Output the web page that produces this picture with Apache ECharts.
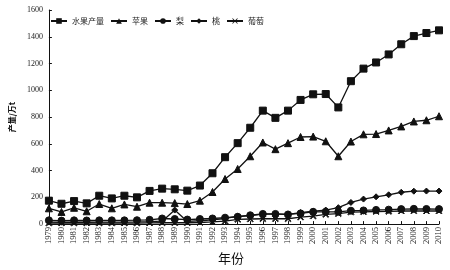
<!DOCTYPE html>
<html><head><meta charset="utf-8">
<script src="https://cdn.jsdelivr.net/npm/echarts@6/dist/echarts.min.js"></script>
<style>html,body{margin:0;padding:0;background:#fff}#c{width:450px;height:270px}</style>
</head><body><div id="c"></div>
<script>
const years = ['1979','1980','1981','1982','1983','1984','1985','1986','1987','1988','1989','1990','1991','1992','1993','1994','1995','1996','1997','1998','1999','2000','2001','2002','2003','2004','2005','2006','2007','2008','2009','2010'];
const total = [175,152,172,155,212,192,212,200,248,265,260,250,288,380,500,605,720,848,794,848,928,970,972,872,1068,1162,1208,1268,1344,1405,1428,1448];
const apple = [118,91,122,96,150,118,147,130,160,160,157,150,175,240,337,412,507,610,560,605,651,654,619,507,617,671,673,700,730,767,776,806];
const pear = [28,26,28,27,28,28,28,29,32,42,38,34,38,42,48,55,66,76,76,72,80,92,92,92,100,102,106,108,112,114,113,112];
const peach = [15,14,15,14,15,15,15,16,18,22,105,20,25,32,42,57,64,75,75,72,86,96,105,123,162,187,204,219,238,246,247,247];
const grape = [8,8,8,8,8,8,8,8,9,10,10,10,12,16,22,35,38,40,40,40,52,60,72,78,90,92,94,95,98,99,98,98];
const yTicks = {min:0, max:1600, interval:200};
const names = ['水果产量','苹果','梨','桃','葡萄'];

const crossPath = 'path://M0,1L1,0L5,4L9,0L10,1L6,5L10,9L9,10L5,6L1,10L0,9L4,5Z';
const symbols = ['rect','triangle','circle','diamond',crossPath];
const sizes = [7,7,7,6,6];
const datas = [total, apple, pear, peach, grape];
const ink = '#111';

const chart = echarts.init(document.getElementById('c'), null, {renderer:'canvas'});
chart.setOption({
  animation:false,
  backgroundColor:'#fff',
  legend:{
    left:45, top:12, itemWidth:16, itemHeight:7, itemGap:6,
    textStyle:{fontSize:8, color:'#222', fontFamily:'Noto Sans CJK SC'},
    data:names
  },
  grid:{left:34, right:11, top:10, bottom:44},
  xAxis:{
    type:'category', data:years, boundaryGap:false,
    name:'年份', nameLocation:'middle', nameGap:27,
    nameTextStyle:{fontSize:13, color:'#111', fontFamily:'Noto Sans CJK SC', padding:[0,26,0,0]},
    axisLine:{lineStyle:{color:ink, width:1}},
    axisTick:{inside:true, length:3, lineStyle:{color:ink}},
    axisLabel:{rotate:90, fontSize:8.5, margin:3, color:'#222', fontFamily:'Liberation Serif', interval:0},
    splitLine:{show:false}
  },
  yAxis:{
    type:'value', min:yTicks.min, max:yTicks.max, interval:yTicks.interval,
    name:'产量/万t', nameLocation:'middle', nameGap:18,
    nameTextStyle:{fontSize:8, fontWeight:'bold', color:'#111', fontFamily:'Noto Sans CJK SC'},
    axisLine:{show:true, lineStyle:{color:ink, width:1}},
    axisTick:{show:true, inside:true, length:3, lineStyle:{color:ink}},
    axisLabel:{fontSize:8, margin:6, color:'#222', fontFamily:'Liberation Serif', formatter:v=>String(v)},
    splitLine:{show:false}
  },
  series:names.map((n,i)=>({
    name:n, type:'line', data:datas[i],
    symbol:symbols[i], symbolSize:sizes[i], showSymbol:true,
    lineStyle:{color:ink, width:1.3},
    itemStyle:{color:ink, borderColor:ink},
    z: 10-i
  }))
});
</script></body></html>
